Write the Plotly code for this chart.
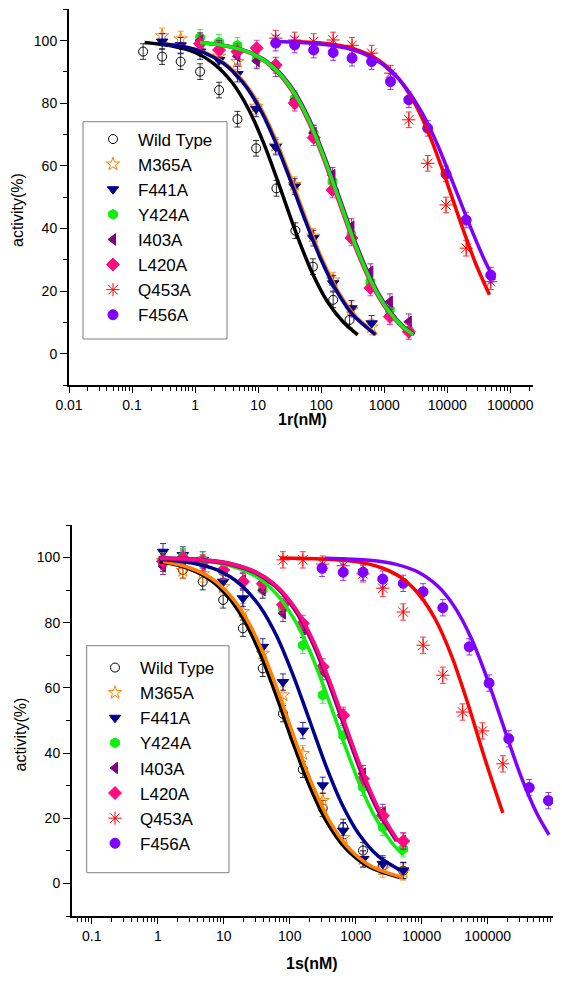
import plotly.graph_objects as go

# ================= Panel 1: 1r(nM) =================
top_x_wt = [0.15, 0.30, 0.59, 1.2, 2.4, 4.7, 9.3, 19.5, 39, 74, 155, 282]
top_y_wt = [96.5, 94.9, 93.3, 90.1, 84.2, 74.9, 65.6, 52.8, 39.3, 27.8, 17.2, 10.8]

top_x_b = [0.30, 0.59, 1.2, 2.4, 4.7, 9.3, 19, 38, 75, 155, 302, 631]
top_y_m365a = [101.5, 100.5, 98.5, 95.0, 93.3, 79.0, 66.5, 54.0, 37.5, 23.5, 14.0, 8.5]
top_y_f441a = [99.7, 98.5, 96.5, 93.8, 89.3, 78.2, 66.0, 53.4, 36.9, 22.5, 14.5, 9.7]

top_x_c = [1.2, 2.4, 4.7, 9.5, 19, 38, 76, 151, 302, 603, 1230, 2455]
top_y_y424a = [101.0, 99.5, 98.5, 94.0, 92.0, 81.5, 70.4, 55.0, 38.0, 23.0, 14.0, 7.5]
top_y_i403a = [100.0, 97.5, 95.0, 93.5, 91.0, 81.0, 70.5, 57.0, 40.6, 26.2, 16.6, 10.2]
top_y_l420a = [99.0, 97.0, 96.5, 97.6, 92.2, 80.0, 69.0, 52.3, 37.0, 21.0, 11.8, 7.0]

top_x_d = [19, 38, 76, 155, 309, 631, 1259, 2455, 4900, 9550, 19950, 48980]
top_y_q453a = [100.8, 100.2, 99.7, 100.2, 98.5, 96.0, 89.6, 74.7, 60.8, 47.5, 33.7, 23.0]
top_y_f456a = [99.2, 98.6, 97.0, 96.2, 94.4, 93.3, 86.9, 81.1, 72.0, 57.4, 42.7, 25.1]

# fitted curves, points
top_fit_wt_x = [0.158, 0.398, 1.0, 2.0, 3.98, 7.08, 12.6, 22.4, 39.8, 70.8, 126, 224, 380]
top_fit_wt_y = [99.4, 98.4, 96.2, 92.6, 86.3, 78.0, 66.6, 52.9, 38.7, 26.2, 16.6, 10.1, 6.0]
top_fit_f441a_x = [0.282, 0.631, 1.41, 2.82, 5.62, 10, 17.8, 31.6, 56.2, 100, 178, 316, 724]
top_fit_f441a_y = [99.1, 98.1, 96.1, 92.7, 86.8, 79.2, 68.7, 56.0, 42.4, 29.9, 19.8, 12.5, 6.1]
top_fit_m365a_x = [0.296, 0.662, 1.48, 2.96, 5.9, 10.5, 18.7, 33.2, 59, 105, 187, 332, 760]
top_fit_m365a_y = [99.1, 98.1, 96.1, 92.7, 86.8, 79.2, 68.7, 56.0, 42.4, 29.9, 19.8, 12.5, 6.1]
top_fit_y424a_x = [1.2, 3.16, 7.94, 17.8, 35.5, 63.1, 112, 200, 355, 631, 1122, 1995, 2884]
top_fit_y424a_y = [99.4, 98.3, 95.9, 91.3, 84.0, 74.7, 62.4, 48.3, 34.4, 22.8, 14.2, 8.5, 6.1]
top_fit_l420a_x = [1.15, 3.03, 7.62, 17.1, 34.1, 60.6, 108, 192, 341, 606, 1077, 1915, 2769]
top_fit_l420a_y = [99.4, 98.3, 95.9, 91.3, 84.0, 74.7, 62.4, 48.3, 34.4, 22.8, 14.2, 8.5, 6.1]
top_fit_i403a_x = [1.25, 3.29, 8.26, 18.5, 36.9, 65.6, 116, 208, 369, 656, 1167, 2075, 2999]
top_fit_i403a_y = [99.4, 98.3, 95.9, 91.3, 84.0, 74.7, 62.4, 48.3, 34.4, 22.8, 14.2, 8.5, 6.1]
top_fit_q453a_x = [31.6, 100, 316, 794, 1585, 2818, 5012, 8913, 15850, 28180, 46770]
top_fit_q453a_y = [99.7, 99.2, 97.5, 93.9, 88.5, 81.2, 70.7, 57.3, 42.6, 28.8, 18.8]
top_fit_f456a_x = [19.5, 79.4, 251, 631, 1259, 2239, 3981, 7079, 12590, 22390, 39810, 56230]
top_fit_f456a_y = [99.7, 99.1, 97.6, 94.6, 90.4, 84.8, 76.9, 66.5, 54.1, 41.3, 29.5, 23.5]

# ================= Panel 2: 1s(nM) =================
bot_x_a = [1.2, 2.4, 4.8, 9.8, 19.5, 39, 79, 158, 316, 646, 1290, 2570, 5250]
bot_y_wt = [98.3, 96.2, 92.6, 87.0, 78.3, 66.0, 52.1, 35.0, 23.0, 17.2, 10.1, 5.4, 3.9]
bot_y_m365a = [99.0, 96.0, 95.0, 91.0, 83.4, 70.6, 57.8, 39.8, 25.4, 14.0, 7.5, 4.4, 3.5]
bot_y_f441a = [101.8, 100.8, 99.3, 92.6, 87.5, 72.6, 61.8, 46.9, 30.1, 16.2, 7.5, 6.0, 4.0]
bot_y_y424a = [99.0, 100.3, 99.3, 95.7, 92.6, 90.1, 84.4, 73.1, 57.8, 45.4, 29.5, 17.2, 10.6]
bot_y_i403a = [97.3, 99.5, 98.0, 96.0, 93.0, 90.0, 82.9, 78.0, 65.0, 51.0, 33.7, 21.8, 13.0]
bot_y_l420a = [98.9, 99.9, 98.5, 96.2, 92.6, 92.0, 85.5, 79.8, 66.5, 51.6, 32.1, 20.8, 13.0]

bot_x_q453a = [79, 158, 316, 646, 1290, 2570, 5250, 10500, 20900, 41700, 83200, 170000]
bot_y_q453a = [99.3, 99.3, 98.0, 97.5, 95.0, 90.6, 83.3, 73.1, 63.9, 52.6, 46.8, 36.7]
bot_x_f456a = [309, 646, 1290, 2570, 5250, 10500, 20900, 52500, 105000, 209000, 427000, 832000]
bot_y_f456a = [96.7, 95.5, 95.5, 93.4, 92.1, 89.5, 84.6, 72.6, 61.5, 44.4, 29.4, 25.4]

bot_fit_wt_x = [1.07, 2.51, 5.62, 11.2, 20, 35.5, 63.1, 112, 200, 355, 708, 1585, 4677]
bot_fit_wt_y = [98.8, 97.1, 93.8, 88.4, 81.0, 70.6, 57.4, 43.1, 29.9, 19.3, 10.7, 5.1, 1.8]
bot_fit_m365a_x = [1.2, 2.81, 6.3, 12.5, 22.4, 39.8, 70.7, 125, 224, 398, 793, 1775, 5240]
bot_fit_m365a_y = [98.8, 97.1, 93.8, 88.4, 81.0, 70.6, 57.4, 43.1, 29.9, 19.3, 10.7, 5.1, 1.8]
bot_fit_f441a_x = [1.07, 3.16, 7.94, 17.8, 35.5, 63.1, 112, 200, 355, 631, 1122, 2239, 4677]
bot_fit_f441a_y = [99.5, 98.4, 96.2, 91.8, 84.9, 76.0, 64.0, 50.0, 36.0, 24.0, 15.1, 8.2, 4.1]
bot_fit_y424a_x = [1.07, 3.98, 12.6, 31.6, 63.1, 112, 200, 355, 631, 1122, 1995, 3548, 5248]
bot_fit_y424a_y = [99.8, 99.2, 97.5, 94.1, 88.8, 81.7, 71.5, 58.5, 44.3, 30.9, 20.1, 12.4, 8.7]
bot_fit_l420a_x = [1.07, 3.98, 12.6, 31.6, 63.1, 126, 224, 398, 708, 1259, 2239, 4365]
bot_fit_l420a_y = [99.8, 99.4, 98.1, 95.4, 91.3, 84.0, 74.7, 62.4, 48.3, 34.4, 22.8, 13.1]
bot_fit_i403a_x = [1.03, 3.82, 12.1, 30.3, 60.6, 121, 215, 382, 680, 1209, 2149, 4190]
bot_fit_i403a_y = [99.8, 99.4, 98.1, 95.4, 91.3, 84.0, 74.7, 62.4, 48.3, 34.4, 22.8, 13.1]
bot_fit_q453a_x = [70.8, 316, 1000, 2512, 5012, 8913, 15850, 28180, 50120, 89130, 169800]
bot_fit_q453a_y = [99.9, 99.6, 98.8, 96.8, 93.7, 88.9, 81.3, 70.0, 55.2, 38.7, 21.6]
bot_fit_f456a_x = [339, 1585, 3981, 8913, 17780, 31620, 56230, 100000, 177800, 316200, 562300, 851100]
bot_fit_f456a_y = [99.8, 99.2, 98.0, 95.5, 91.1, 84.8, 75.3, 62.4, 47.6, 33.1, 21.3, 14.9]

colors = {"Wild Type": "#000000", "M365A": "#FF8000", "F441A": "#00008F",
          "Y424A": "#10EE10", "I403A": "#800080", "L420A": "#FF0A80",
          "Q453A": "#FF0000", "F456A": "#8000FF"}
symbols = {"Wild Type": "circle-open", "M365A": "star-open", "F441A": "triangle-down",
           "Y424A": "hexagon", "I403A": "triangle-left", "L420A": "diamond",
           "Q453A": "asterisk-open", "F456A": "circle"}
sizes = {"Wild Type": 9, "M365A": 10, "F441A": 10, "Y424A": 10, "I403A": 10,
         "L420A": 10, "Q453A": 11, "F456A": 10}

FONT = "Liberation Sans, Arial, sans-serif"
fig = go.Figure()


def add_fit(x, y, name, xa, ya, width=3.5):
    fig.add_trace(go.Scatter(x=x, y=y, mode="lines", xaxis=xa, yaxis=ya,
                             line=dict(color=colors[name], width=width, shape="spline", smoothing=0.8),
                             showlegend=False, hoverinfo="skip"))


def add_pts(x, y, name, xa, ya, legend):
    c = colors[name]
    fig.add_trace(go.Scatter(
        x=x, y=y, mode="markers", name=name, xaxis=xa, yaxis=ya, legend=legend,
        marker=dict(symbol=symbols[name], size=sizes[name], color=c,
                    line=dict(color=c, width=1)),
        error_y=dict(type="constant", value=2.5, color=c, thickness=0.8, width=3)))


pts_top = [(top_x_wt, top_y_wt, "Wild Type"), (top_x_b, top_y_m365a, "M365A"),
           (top_x_b, top_y_f441a, "F441A"), (top_x_c, top_y_y424a, "Y424A"),
           (top_x_c, top_y_i403a, "I403A"), (top_x_c, top_y_l420a, "L420A"),
           (top_x_d, top_y_q453a, "Q453A"), (top_x_d, top_y_f456a, "F456A")]
for x, y, n in pts_top:
    add_pts(x, y, n, "x", "y", "legend")

add_fit(top_fit_wt_x, top_fit_wt_y, "Wild Type", "x", "y")
add_fit(top_fit_m365a_x, top_fit_m365a_y, "M365A", "x", "y")
add_fit(top_fit_f441a_x, top_fit_f441a_y, "F441A", "x", "y")
add_fit(top_fit_l420a_x, top_fit_l420a_y, "L420A", "x", "y")
add_fit(top_fit_i403a_x, top_fit_i403a_y, "I403A", "x", "y")
add_fit(top_fit_y424a_x, top_fit_y424a_y, "Y424A", "x", "y")
add_fit(top_fit_q453a_x, top_fit_q453a_y, "Q453A", "x", "y")
add_fit(top_fit_f456a_x, top_fit_f456a_y, "F456A", "x", "y")

pts_bot = [(bot_x_a, bot_y_wt, "Wild Type"), (bot_x_a, bot_y_m365a, "M365A"),
           (bot_x_a, bot_y_f441a, "F441A"), (bot_x_a, bot_y_y424a, "Y424A"),
           (bot_x_a, bot_y_i403a, "I403A"), (bot_x_a, bot_y_l420a, "L420A"),
           (bot_x_q453a, bot_y_q453a, "Q453A"), (bot_x_f456a, bot_y_f456a, "F456A")]
for x, y, n in pts_bot:
    add_pts(x, y, n, "x2", "y2", "legend2")

add_fit(bot_fit_wt_x, bot_fit_wt_y, "Wild Type", "x2", "y2")
add_fit(bot_fit_m365a_x, bot_fit_m365a_y, "M365A", "x2", "y2")
add_fit(bot_fit_f441a_x, bot_fit_f441a_y, "F441A", "x2", "y2")
add_fit(bot_fit_y424a_x, bot_fit_y424a_y, "Y424A", "x2", "y2")
add_fit(bot_fit_i403a_x, bot_fit_i403a_y, "I403A", "x2", "y2", width=4.5)
add_fit(bot_fit_l420a_x, bot_fit_l420a_y, "L420A", "x2", "y2")
add_fit(bot_fit_q453a_x, bot_fit_q453a_y, "Q453A", "x2", "y2")
add_fit(bot_fit_f456a_x, bot_fit_f456a_y, "F456A", "x2", "y2")

# page body keeps an 8px margin: the figure is sized to fit inside the window
OFF = 8
W, H = 562 - 2 * OFF, 981 - 2 * OFF
decades = [0.01, 0.1, 1, 10, 100, 1000, 10000, 100000]
dec_text = ["0.01", "0.1", "1", "10", "100", "1000", "10000", "100000"]
minor_vals = [0.05, 0.06, 0.07, 0.08, 0.09] + [m * d for d in [0.01, 0.1, 1, 10, 100, 1000, 10000, 100000]
                                               for m in range(2, 10)]


def xaxis(domain, rng, anchor):
    return dict(type="log", domain=domain, range=rng, anchor=anchor,
                tickvals=decades, ticktext=dec_text, ticks="outside", ticklen=6,
                tickwidth=1.2, tickcolor="black", showline=True, linewidth=2,
                linecolor="black", showgrid=False, zeroline=False, automargin=False,
                tickfont=dict(family=FONT, size=14, color="black"),
                minor=dict(tickvals=minor_vals, ticks="outside", ticklen=3.5,
                           tickwidth=1, tickcolor="black", showgrid=False))


def yaxis(domain, anchor):
    return dict(domain=domain, range=[-10, 110], anchor=anchor,
                tickvals=[0, 20, 40, 60, 80, 100], ticks="outside", ticklen=7,
                tickwidth=1.2, tickcolor="black", showline=True, linewidth=2,
                linecolor="black", showgrid=False, zeroline=False, automargin=False,
                tickfont=dict(family=FONT, size=14, color="black"),
                minor=dict(dtick=10, tick0=0, ticks="outside", ticklen=4,
                           tickwidth=1, tickcolor="black", showgrid=False))


def px_x(p):
    return (p - OFF) / W


def px_y(p):
    return 1 - (p - OFF) / H


legend_common = dict(font=dict(family=FONT, size=17, color="black"),
                     bgcolor="rgba(0,0,0,0)", borderwidth=0, itemwidth=40,
                     xanchor="left", yanchor="top", tracegroupgap=0)

fig.update_layout(
    width=W, height=H, autosize=False,
    margin=dict(l=0, r=0, t=0, b=0, autoexpand=False),
    paper_bgcolor="white", plot_bgcolor="white",
    font=dict(family=FONT, color="black"),
    xaxis=xaxis([px_x(69), px_x(533)], [-2, 5.36], "y"),
    yaxis=yaxis([px_y(385), px_y(9.3)], "x"),
    xaxis2=xaxis([px_x(72), px_x(553)], [-1.3, 5.99], "y2"),
    yaxis2=yaxis([px_y(916), px_y(525)], "x2"),
    legend=dict(x=px_x(88), y=px_y(121.5), **legend_common),
    legend2=dict(x=px_x(90), y=px_y(650), **legend_common),
    shapes=[
        dict(type="rect", xref="paper", yref="paper", x0=px_x(83), x1=px_x(227),
             y0=px_y(339), y1=px_y(121.7), line=dict(color="#808080", width=1)),
        dict(type="rect", xref="paper", yref="paper", x0=px_x(86.7), x1=px_x(229),
             y0=px_y(872.7), y1=px_y(645.7), line=dict(color="#808080", width=1)),
    ],
    annotations=[
        dict(text="activity(%)", textangle=-90, x=px_x(18), y=px_y(210), xref="paper", yref="paper",
             xanchor="center", yanchor="middle", showarrow=False,
             font=dict(family=FONT, size=16, color="black")),
        dict(text="activity(%)", textangle=-90, x=px_x(19.5), y=px_y(735), xref="paper", yref="paper",
             xanchor="center", yanchor="middle", showarrow=False,
             font=dict(family=FONT, size=16, color="black")),
        dict(text="<b>1r(nM)</b>", x=px_x(302), y=px_y(419), xref="paper", yref="paper",
             xanchor="center", yanchor="middle", showarrow=False,
             font=dict(family=FONT, size=16, color="black")),
        dict(text="<b>1s(nM)</b>", x=px_x(312), y=px_y(963), xref="paper", yref="paper",
             xanchor="center", yanchor="middle", showarrow=False,
             font=dict(family=FONT, size=16, color="black")),
    ],
)

fig.write_html("out.html")
